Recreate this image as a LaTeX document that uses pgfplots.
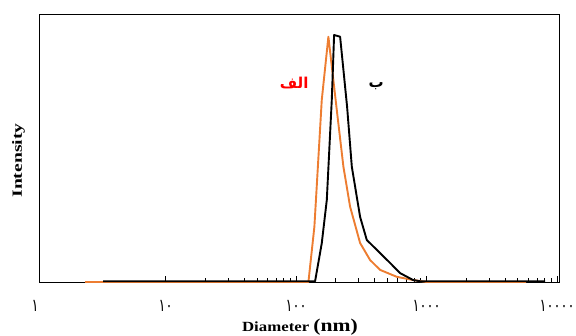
\documentclass[border=0pt]{standalone}
\usepackage{pgfplots}
\pgfplotsset{compat=1.18}
\usepackage{fontspec}
\usepackage{graphicx}
\setmainfont{Liberation Serif}
\newfontfamily\arabicfont[Script=Arabic]{DejaVu Sans}
\TeXXeTstate=1
\definecolor{orng}{RGB}{237,125,49}
\newcommand{\ad}[1]{\mbox{\scalebox{1}[1.35]{\arabicfont\fontsize{13}{13}\selectfont #1}}}
\begin{document}
\begin{tikzpicture}
\path[use as bounding box] (-39.5pt,-54pt) rectangle (536.5pt,282pt);
\begin{axis}[
  at={(0,0)}, anchor=south west,
  scale only axis, width=519.5pt, height=268pt,
  xmode=log, xmin=1.08, xmax=10350, ymin=0, ymax=108.5,
  ytick=\empty,
  xtick={10,100,1000,10000},
  xticklabels={\ad{١٠},\ad{١٠٠},\ad{١٠٠٠},\ad{١٠٠٠٠}},
  xticklabel style={anchor=center, yshift=-24pt},
  xtick pos=left,
  tick align=inside,
  major tick length=6pt, minor tick length=3.5pt,
  tick style={black, line width=0.6pt},
  axis line style={black, line width=0.8pt},
  clip=false,
  xlabel={\scalebox{1.2}[1]{\bfseries\fontsize{14}{14}\selectfont Diameter {\fontsize{18}{18}\selectfont (nm)}}},
  xlabel style={at={(axis description cs:0.5014,-0.168)}, anchor=center},
  ylabel={\scalebox{1.4}[1]{\bfseries\fontsize{14}{14}\selectfont Intensity}},
  ylabel style={at={(axis description cs:-0.0404,0.453)}, anchor=center},
]
\addplot[orng, line width=1.9pt, line join=round] coordinates {
(2.42,0) (124.3,0) (138.1,22.4) (157.3,73.7) (176.8,99.3) (205.1,69.6)
(230.4,46.7) (259.3,30.5) (309.3,15.8) (369,8.9) (440.3,4.9) (591,2.1)
(788,0.8) (1003,0) (5788,0)
};
\addplot[black, line width=1.9pt, line join=round] coordinates {
(3.32,0.3) (139.8,0.3) (157.3,15.7) (171.9,33.2) (187.7,73.7) (195.6,100)
(217.4,99.3) (245.9,71) (267.3,46.7) (309.3,26.4) (348.2,17) (440.3,11.7)
(525.3,7.7) (626.6,3.6) (788,0.8) (891.7,0.3) (8091,0.3)
};
\node[anchor=center, yshift=-24pt] at (axis cs:1,0) {\ad{١}};
\node[text=red, font=\arabicfont\bfseries\fontsize{15}{15}\selectfont] at (axis cs:96.5,80.6) {\beginR الف\endR};
\node[text=black, font=\arabicfont\bfseries\fontsize{15}{15}\selectfont] at (axis cs:410,79.4) {\beginR ب\endR};
\end{axis}
\end{tikzpicture}
\end{document}
